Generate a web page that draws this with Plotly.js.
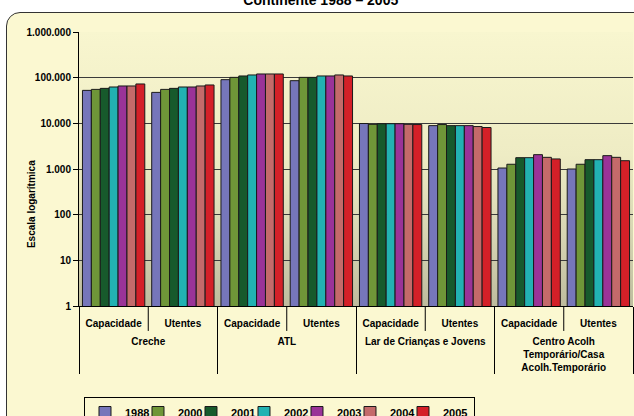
<!DOCTYPE html>
<html>
<head>
<meta charset="utf-8">
<script src="https://cdn.plot.ly/plotly-3.0.1.min.js"></script>
<style>
  html, body { margin:0; padding:0; background:#ffffff; width:634px; height:416px; overflow:hidden; }
  #box { position:absolute; left:6px; top:12px; width:650px; height:420px; background:#FBF8D1;
         border:1.5px solid #333; border-radius:14px; }
  #grad { position:absolute; left:79px; top:32px; width:554px; height:274px;
          background:linear-gradient(to bottom, #F8F6CF 0%, #EEECC4 45%, #D6D4B2 75%, #BEBC9E 100%); }
  #chart { position:absolute; left:0; top:0; width:634px; height:416px; }
</style>
</head>
<body>
<div id="box"></div>
<div id="grad"></div>
<div id="chart"></div>
<script>
const groupLabels = ['<br>Creche','<br>Creche','<br>ATL','<br>ATL','<br>Lar de Crianças e Jovens','<br>Lar de Crianças e Jovens',
  '<br>Centro Acolh<br>Temporário/Casa<br>Acolh.Temporário','<br>Centro Acolh<br>Temporário/Casa<br>Acolh.Temporário'];
const subLabels = ['Capacidade','Utentes','Capacidade','Utentes','Capacidade','Utentes','Capacidade','Utentes'];

const years = ['1988','2000','2001','2002','2003','2004','2005'];
const v1988 = [52700, 47600,  90400,  85900, 9900, 8900, 1050, 1000];
const v2000 = [55400, 55400, 101500, 101500, 9500, 9400, 1270, 1270];
const v2001 = [58300, 58300, 109000, 101500, 9800, 8900, 1770, 1600];
const v2002 = [62500, 62500, 114600, 109000, 9800, 8900, 1770, 1600];
const v2003 = [65800, 62500, 120500, 109000, 9800, 8900, 2060, 1960];
const v2004 = [65800, 65800, 120500, 114600, 9500, 8500, 1800, 1800];
const v2005 = [72800, 69200, 120500, 109000, 9400, 8100, 1660, 1520];

const yTickVals = [1, 10, 100, 1000, 10000, 100000, 1000000];
const yTickText = ['1', '10', '100', '1.000', '10.000', '100.000', '1.000.000'];

const series = [v1988, v2000, v2001, v2002, v2003, v2004, v2005];
const colors = ['#7676BA', '#6F9638', '#175A2C', '#22B2B2', '#9A3398', '#C46A6A', '#D42028'];

const FONT = 'Liberation Sans, Arial, sans-serif';

const traces = series.map((vals, i) => ({
  type: 'bar',
  name: years[i],
  x: [groupLabels, subLabels],
  y: vals,
  marker: { color: colors[i], line: { color: '#1a1a1a', width: 1 } },
  legendwidth: (i === series.length - 1) ? 26 : 8,
  hoverinfo: 'skip'
}));

// inner separators between sub-categories (Capacidade | Utentes) inside each group
const nCat = subLabels.length;
const shapes = [];
for (let k = 1; k < nCat; k += 2) {
  shapes.push({ type:'line', xref:'paper', yref:'paper', x0:k/nCat, x1:k/nCat, y0:0, y1:-0.091,
                line:{ color:'#000', width:1 } });
}

const layout = {
  width: 634, height: 416,
  margin: { l: 79, r: 1, t: 32, b: 110, autoexpand: false },
  paper_bgcolor: 'rgba(0,0,0,0)',
  plot_bgcolor: 'rgba(0,0,0,0)',
  showlegend: true,
  barmode: 'group',
  bargap: 0.1,
  bargroupgap: 0,
  title: { text: 'Continente 1988 – 2005', font: { family: FONT, size: 14, weight: 'bold', color: '#000' },
           x: 0.506, xref: 'container', xanchor: 'center', y: 1.0, yref: 'container', yanchor: 'middle' },
  xaxis: {
    type: 'multicategory',
    showline: true, linecolor: '#000', linewidth: 1,
    showdividers: true, dividercolor: '#000', dividerwidth: 1,
    ticks: '', ticklabelstandoff: 8,
    tickfont: { family: FONT, size: 10, weight: 'bold', color: '#000' },
    showgrid: false, automargin: false, fixedrange: true
  },
  yaxis: {
    type: 'log', range: [0, 6],
    tickvals: yTickVals, ticktext: yTickText,
    ticks: 'outside', ticklen: 5, tickcolor: '#000',
    showline: true, linecolor: '#000', linewidth: 1,
    showgrid: true, gridcolor: '#3a3a3a', gridwidth: 1,
    tickfont: { family: FONT, size: 10, weight: 'bold', color: '#000' },
    automargin: false, fixedrange: true
  },
  legend: {
    orientation: 'h', x: 0.009, xanchor: 'left', xref: 'paper',
    y: 1 - 397 / 416, yanchor: 'top', yref: 'container',
    bordercolor: '#000', borderwidth: 1, bgcolor: 'rgba(0,0,0,0)',
    itemwidth: 30, entrywidth: 8, entrywidthmode: 'pixels', traceorder: 'normal',
    font: { family: FONT, size: 11, weight: 'bold', color: '#000' }
  },
  annotations: [{
    text: 'Escala logarítmica', xref: 'paper', yref: 'paper', x: -0.0866, y: 0.372,
    textangle: -90, showarrow: false, xanchor: 'center', yanchor: 'middle',
    font: { family: FONT, size: 10, weight: 'bold', color: '#000' }
  }],
  shapes: shapes
};

Plotly.newPlot('chart', traces, layout, { displayModeBar: false, staticPlot: true });
</script>
</body>
</html>
